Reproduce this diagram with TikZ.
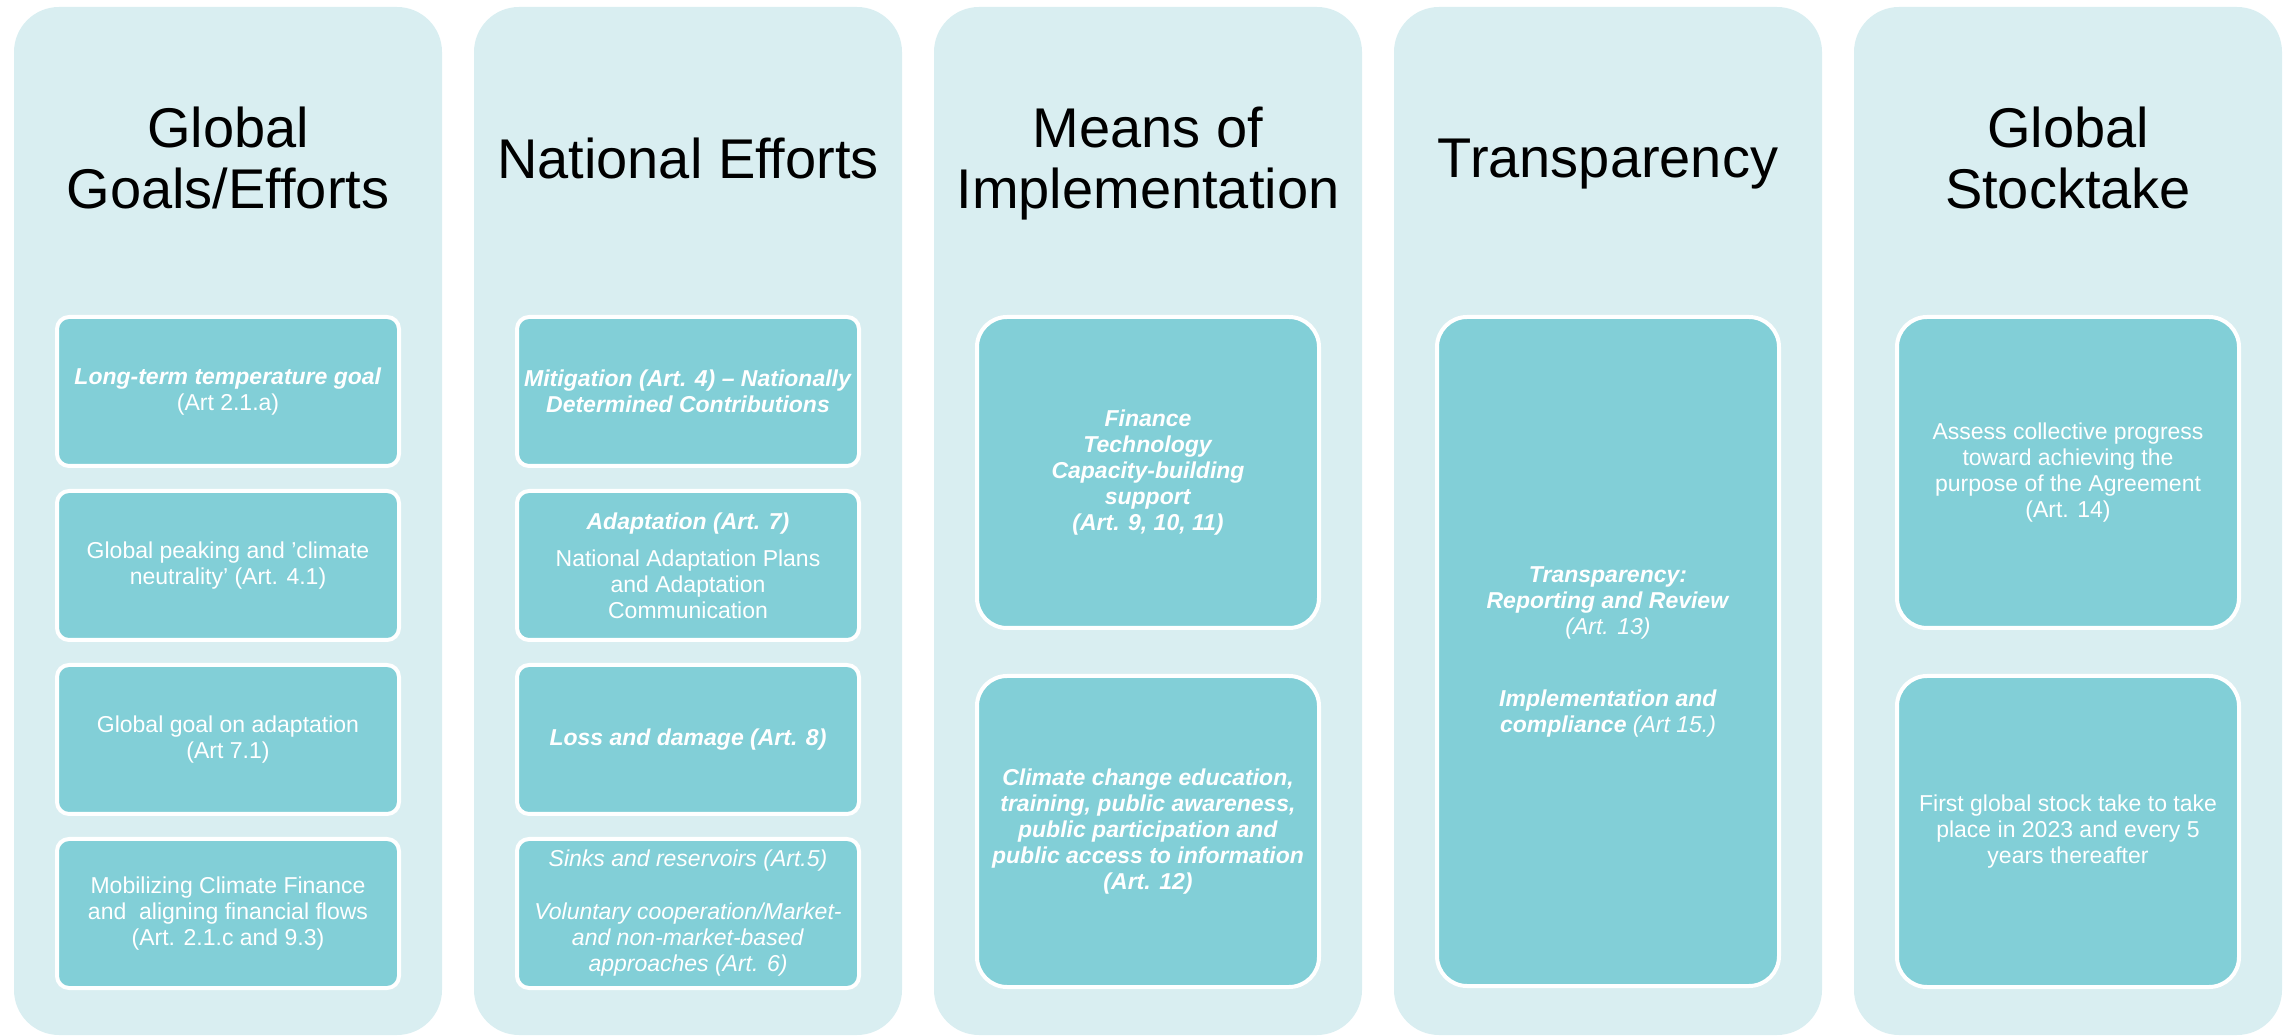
\documentclass[tikz,border=0pt]{standalone}
\usepackage{fontspec}
\setmainfont{Liberation Sans}
\usetikzlibrary{positioning}

\definecolor{panelbg}{HTML}{D9EEF1}
\definecolor{cellbg}{HTML}{82CFD7}

\tikzset{
  panel/.style={fill=panelbg, rounded corners=22.5pt, minimum width=214pt, minimum height=514pt, inner sep=0pt, outer sep=0pt},
  head/.style={align=center, font=\fontsize{28}{30.5}\selectfont, text depth=0pt, inner sep=0pt},
  cell/.style={draw=white, line width=2pt, fill=cellbg, rounded corners=6pt, minimum width=171pt, align=center, inner sep=2pt, outer sep=0pt, text=white, font=\fontsize{11.5}{13}\selectfont},
  bigcell/.style={cell, rounded corners=15pt},
}
\newcommand{\bi}[1]{\textbf{\textit{#1}}}

\begin{document}
\begin{tikzpicture}[x=0.5pt, y=-0.5pt]
\useasboundingbox (0,0) rectangle (2292,1036);

% columns
\node[panel] (c1) at (228,521) {};
\node[panel, right=16pt of c1] (c2) {};
\node[panel, right=16pt of c2] (c3) {};
\node[panel, right=16pt of c3] (c4) {};
\node[panel, right=16pt of c4] (c5) {};

% headings
\node[head] (h1) at (228,158) {Global\\Goals/Efforts};
\node[head] (h2) at (688,158) {National Efforts};
\node[head] (h3) at (1148,158) {Means of\\Implementation};
\node[head] (h4) at (1608,158) {Transparency};
\node[head] (h5) at (2068,158) {Global\\Stocktake};

% global goals
\node[cell, minimum height=74.5pt] (g1) at (228,391.5) {\bi{Long-term temperature goal}\\(Art 2.1.a)};
\node[cell, minimum height=74.5pt, below=12.5pt of g1] (g2) {Global peaking and 'climate\\neutrality' (Art. 4.1)};
\node[cell, minimum height=74.5pt, below=12.5pt of g2] (g3) {Global goal on adaptation\\(Art 7.1)};
\node[cell, minimum height=74.5pt, below=12.5pt of g3] (g4) {Mobilizing Climate Finance\\and \ aligning financial flows\\(Art. 2.1.c and 9.3)};

% national efforts
\node[cell, minimum height=74.5pt] (n1) at (688,391.5) {\bi{Mitigation (Art. 4) -- Nationally}\\\bi{Determined Contributions}};
\node[cell, minimum height=74.5pt, below=12.5pt of n1] (n2) {\bi{Adaptation (Art. 7)}\\[5.5pt]National Adaptation Plans\\and Adaptation\\Communication};
\node[cell, minimum height=74.5pt, below=12.5pt of n2] (n3) {\bi{Loss and damage (Art. 8)}};
\node[cell, minimum height=74.5pt, below=12.5pt of n3] (n4) {\textit{Sinks and reservoirs (Art.5)}\\[13.5pt]\textit{Voluntary cooperation/Market-}\\\textit{and non-market-based}\\\textit{approaches (Art. 6)}};

% means of implementation
\node[bigcell, minimum height=155.5pt] (m1) at (1148,472.5) {\bi{Finance}\\\bi{Technology}\\\bi{Capacity-building}\\\bi{support}\\\bi{(Art. 9, 10, 11)}};
\node[bigcell, minimum height=155.5pt, below=24pt of m1] (m2) {\bi{Climate change education,}\\\bi{training, public awareness,}\\\bi{public participation and}\\\bi{public access to information}\\\bi{(Art. 12)}};

% transparency
\node[bigcell, minimum height=334.5pt] (t1) at (1608,651.5) {\bi{Transparency:}\\\bi{Reporting and Review}\\\textit{(Art. 13)}\\[23pt]\bi{Implementation and}\\\bi{compliance} \textit{(Art 15.)}};

% stocktake
\node[bigcell, minimum height=155.5pt] (s1) at (2068,472.5) {Assess collective progress\\toward achieving the\\purpose of the Agreement\\(Art. 14)};
\node[bigcell, minimum height=155.5pt, below=24pt of s1] (s2) {First global stock take to take\\place in 2023 and every 5\\years thereafter};
\end{tikzpicture}
\end{document}
